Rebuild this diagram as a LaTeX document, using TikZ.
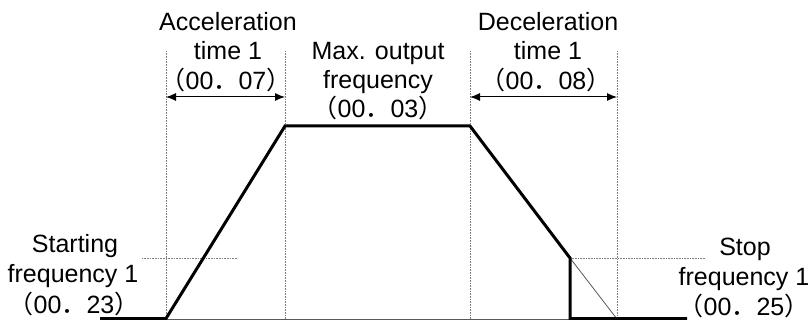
\documentclass[tikz,border=0pt]{standalone}
\usepackage{fontspec}
\setmainfont{Liberation Sans}
\newfontfamily\cjkfont{Noto Sans CJK SC}
\usetikzlibrary{arrows.meta}
\newcommand{\fwc}[1]{{\cjkfont #1}}
\begin{document}
\begin{tikzpicture}[x=1pt,y=-1pt,
  lbl/.style={anchor=base,inner sep=0pt,font=\fontsize{25}{30}\selectfont},
  guide/.style={draw=gray,line width=0.9pt,dash pattern=on 1pt off 0.6pt},
  profile/.style={line width=3pt,line join=miter,line cap=butt},
  dimarrow/.style={line width=1pt,{Latex[length=10pt,width=8pt]}-{Latex[length=10pt,width=8pt]}},
  thinline/.style={draw=gray!70!black,line width=0.8pt}]
\useasboundingbox (0,0) rectangle (811,320);
% vertical guide lines
\coordinate (v1t) at (166,51); \coordinate (v1b) at (166,320);
\coordinate (v2t) at (285,51); \coordinate (v2b) at (285,320);
\coordinate (v3t) at (470,51); \coordinate (v3b) at (470,320);
\coordinate (v4t) at (617,51); \coordinate (v4b) at (617,320);
\draw[guide] (v1t) -- (v1b);
\draw[guide] (v2t) -- (v2b);
\draw[guide] (v3t) -- (v3b);
\draw[guide] (v4t) -- (v4b);
% horizontal guides
\coordinate (sgl) at (142,258); \coordinate (sgr) at (238,258);
\coordinate (tgl) at (570,258); \coordinate (tgr) at (705,258);
\draw[guide] (sgl) -- (sgr);
\draw[guide] (tgl) -- (tgr);
% axis and thin diagonal
\coordinate (axl) at (166,319); \coordinate (axr) at (570,319);
\draw[thinline] (axl) -- (axr);
\coordinate (dz) at (617,319);
\draw[thinline] (tgl) -- (dz);
% profile
\coordinate (p0) at (100,318.5);
\coordinate (p1) at (166,318.5);
\coordinate (p2) at (285,126);
\coordinate (p3) at (470,126);
\coordinate (p4) at (570,258);
\coordinate (p5) at (570,318.5);
\coordinate (p6) at (687,318.5);
\draw[profile] (p0) -- (p1) -- (p2) -- (p3) -- (p4) -- (p5) -- (p6);
% dimension arrows
\coordinate (a1) at (166,97); \coordinate (a2) at (285,97);
\coordinate (d1) at (470,97); \coordinate (d2) at (617,97);
\draw[dimarrow] (a1) -- (a2);
\draw[dimarrow] (d1) -- (d2);
% labels
\node[lbl] (acc1) at (228,31) {Acceleration};
\node[lbl] (acc2) at (228,60) {time 1};
\node[lbl] (acc3) at (226,90) {\fwc{（}00\fwc{．}07\fwc{）}};
\node[lbl] (max1) at (378,60) {Max. output};
\node[lbl] (max2) at (378,89) {frequency};
\node[lbl] (max3) at (378,118) {\fwc{（}00\fwc{．}03\fwc{）}};
\node[lbl] (dec1) at (548,31) {Deceleration};
\node[lbl] (dec2) at (548,60) {time 1};
\node[lbl] (dec3) at (546,90) {\fwc{（}00\fwc{．}08\fwc{）}};
\node[lbl] (st1) at (75,253) {Starting};
\node[lbl] (st2) at (73,283) {frequency 1};
\node[lbl] (st3) at (74,313) {\fwc{（}00\fwc{．}23\fwc{）}};
\node[lbl] (sp1) at (745,256) {Stop};
\node[lbl] (sp2) at (744,286) {frequency 1};
\node[lbl] (sp3) at (744,316) {\fwc{（}00\fwc{．}25\fwc{）}};
\end{tikzpicture}
\end{document}
